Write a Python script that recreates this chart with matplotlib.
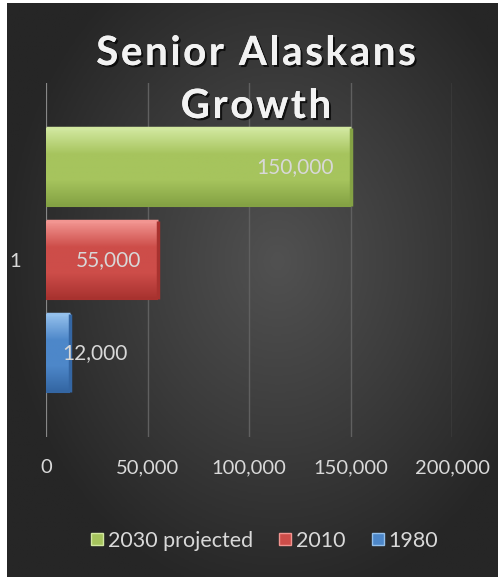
import numpy as np
import matplotlib.pyplot as plt
import matplotlib.patheffects as pe
from matplotlib.colors import LinearSegmentedColormap
from matplotlib.lines import Line2D

# data
title_lines = ['Senior Alaskans', 'Growth']
category = '1'
series = ['2030 projected', '2010', '1980']
values = [150000, 55000, 12000]
value_labels = ['150,000', '55,000', '12,000']
xticks = [0, 50000, 100000, 150000, 200000]
xtick_labels = ['0', '50,000', '100,000', '150,000', '200,000']

# colours: (top highlight, body, bottom shade)
bar_colors = [('#d2e8a0', '#a6c45d', '#84a244'),
              ('#f29591', '#cd4d49', '#a8322f'),
              ('#94c0ec', '#4d87c9', '#3466a3')]

plt.rcParams['font.family'] = ['Lato', 'DejaVu Sans']

W, H = 498, 577
fig = plt.figure(figsize=(W / 100, H / 100), dpi=100, facecolor='white')
renderer = fig.canvas.get_renderer()

# dark radial background
bg = fig.add_axes([7 / W, 0, 1 - 7 / W, 1 - 3 / H])
bg.set_axis_off()
yy, xx = np.mgrid[0:1:300j, 0:1:300j]
r = np.sqrt(((xx - 0.55) / 0.75) ** 2 + ((yy - 0.45) / 0.8) ** 2)
bg_cmap = LinearSegmentedColormap.from_list('bg', ['#515151', '#3c3c3c', '#262626'])
bg.imshow(r, cmap=bg_cmap, extent=[0, 1, 0, 1], aspect='auto', vmin=0, vmax=0.75)
bg.set_xlim(0, 1)
bg.set_ylim(0, 1)

ax = fig.add_axes([46 / W, 1 - 437 / H, (452 - 46) / W, (437 - 83) / H])
ax.patch.set_alpha(0)

step = 0.263
offsets = [step, 0, -step]
bars = ax.barh([o for o in offsets], values, height=0.22, color='none', zorder=3)

for rect, (top, mid, bot) in zip(bars, bar_colors):
    x0, y0 = rect.get_x(), rect.get_y()
    w, h = rect.get_width(), rect.get_height()
    cm = LinearSegmentedColormap.from_list('b', [bot, mid, mid, top], N=256)
    grad = np.linspace(0, 1, 100).reshape(-1, 1)
    im = ax.imshow(grad, cmap=cm, extent=[x0, x0 + w, y0, y0 + h],
                   aspect='auto', origin='lower', zorder=3)
    im.set_clip_path(rect)
    # bevel edges
    ax.plot([x0, x0 + w], [y0 + h, y0 + h], color=top, lw=2.5, zorder=4,
            solid_capstyle='butt')
    ax.plot([x0 + w, x0 + w], [y0, y0 + h], color=bot, lw=2.5, zorder=4,
            solid_capstyle='butt')
    ax.plot([x0, x0 + w], [y0, y0], color=bot, lw=1.5, zorder=4,
            solid_capstyle='butt')

# data labels
for rect, lab in zip(bars, value_labels):
    w = rect.get_width()
    yc = rect.get_y() + rect.get_height() / 2
    if w > 30000:
        ax.annotate(lab, (w, yc), xytext=(-12, 0), textcoords='offset points',
                    ha='right', va='center', color='#d8d8d8', fontsize=15, zorder=5)
    else:
        ax.annotate(lab, (0, yc), xytext=(12, 0), textcoords='offset points',
                    ha='left', va='center', color='#d8d8d8', fontsize=15, zorder=5)

ax.set_xlim(0, 200000)
ax.set_ylim(-0.5, 0.5)
ax.set_xticks(xticks)
ax.set_xticklabels(xtick_labels)
ax.set_yticks([0])
ax.set_yticklabels([category])
ax.tick_params(axis='x', colors='#d9d9d9', labelsize=14.5, length=0, pad=16)
ax.tick_params(axis='y', colors='#d9d9d9', labelsize=14.5, length=0, pad=18)
for s in ax.spines.values():
    s.set_visible(False)
ax.grid(axis='x', color='#606060', lw=1, zorder=1)
ax.axvline(0, color='#8f8f8f', lw=1.2, zorder=2)


def text_width(s, **kw):
    t = fig.text(0, 0, s, **kw)
    w = t.get_window_extent(renderer).width
    t.remove()
    return w


def spaced_title(s, xc, yc, spacing, **kw):
    # title with extra letter spacing, like the original
    widths = [text_width(s[:i + 1], **kw) for i in range(len(s))]
    total = widths[-1] + spacing * (len(s) - 1)
    left = xc - total / 2
    for i, ch in enumerate(s):
        if ch == ' ':
            continue
        x = widths[i] - text_width(ch, **kw) + i * spacing
        fig.text((left + x) / W, 1 - yc / H, ch, ha='left', va='baseline', **kw)


title_fx = [pe.withSimplePatchShadow(offset=(1.5, -1.5), shadow_rgbFace='black',
                                     alpha=0.7), pe.Normal()]
title_kw = dict(color='#f2f2f2', fontsize=29, fontweight='bold', path_effects=title_fx)
spaced_title(title_lines[0], 256, 65, 2.6, **title_kw)
spaced_title(title_lines[1], 256, 118, 2.6, **title_kw)

handles = [Line2D([], [], marker='s', ls='none', markersize=9,
                  markerfacecolor=c[1], markeredgecolor=c[0]) for c in bar_colors]
fig.legend(handles, series, loc='center', bbox_to_anchor=(262 / W, 1 - 541 / H),
           ncol=3, frameon=False, fontsize=15.5, labelcolor='#d9d9d9',
           handletextpad=0.0, columnspacing=1.0, handlelength=1)

fig.savefig('out.png', dpi=100, facecolor=fig.get_facecolor())
